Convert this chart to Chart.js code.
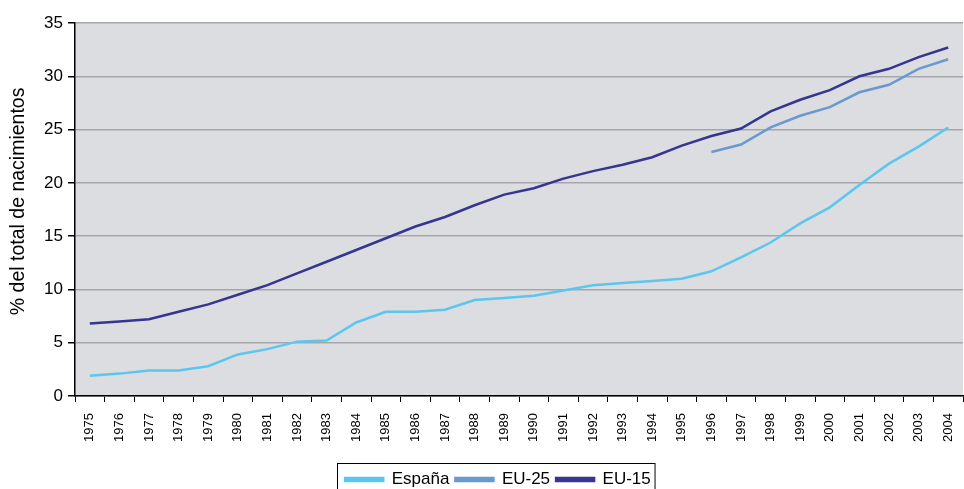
<!DOCTYPE html>
<html>
<head>
<meta charset="utf-8">
<script src="https://cdn.jsdelivr.net/npm/chart.js@4"></script>
<style>
  body { margin: 0; background: #fff; }
  #wrap { width: 964px; height: 489px; }
</style>
</head>
<body>
<div id="wrap"><canvas id="chart1"></canvas></div>
<script>
const years = ["1975","1976","1977","1978","1979","1980","1981","1982","1983","1984",
  "1985","1986","1987","1988","1989","1990","1991","1992","1993","1994",
  "1995","1996","1997","1998","1999","2000","2001","2002","2003","2004"]

const espana = [1.9, 2.1, 2.4, 2.4, 2.8, 3.9, 4.4, 5.1, 5.2, 6.9,
  7.9, 7.9, 8.1, 9.0, 9.2, 9.4, 9.9, 10.4, 10.6, 10.8,
  11.0, 11.7, 13.0, 14.4, 16.2, 17.7, 19.8, 21.8, 23.4, 25.2]

// EU-25 only starts in 1996
const eu25 = [null, null, null, null, null, null, null, null, null, null,
  null, null, null, null, null, null, null, null, null, null,
  null, 22.9, 23.6, 25.2, 26.3, 27.1, 28.5, 29.2, 30.7, 31.6]

const eu15 = [6.8, 7.0, 7.2, 7.9, 8.6, 9.5, 10.4, 11.5, 12.6, 13.7,
  14.8, 15.9, 16.8, 17.9, 18.9, 19.5, 20.4, 21.1, 21.7, 22.4,
  23.5, 24.4, 25.1, 26.7, 27.8, 28.7, 30.0, 30.7, 31.8, 32.7]

const yTicks = [0, 5, 10, 15, 20, 25, 30, 35]

const fontFamily = "'Liberation Sans', Arial, sans-serif"
const narrowFamily = "'Liberation Sans Narrow', 'Arial Narrow', 'Liberation Sans', sans-serif"

// grey plot background
const plotBg = {
  id: "plotBg",
  beforeDraw(chart){
    const a = chart.chartArea
    const c = chart.ctx
    c.save()
    c.fillStyle = "#dcdde0"
    c.fillRect(a.left, a.top, a.right - a.left, a.bottom - a.top)
    c.restore()
  }
}

// legend sits a bit right of the canvas centre in the original + has a frame
const legendBox = {
  id: "legendBox",
  afterLayout(chart){
    const shift = 14
    chart.legend.left += shift
    chart.legend.right += shift
  },
  afterDraw(chart){
    const boxes = chart.legend.legendHitBoxes
    if(!boxes || !boxes.length) return
    let x0 = Infinity, x1 = -Infinity, y0 = Infinity
    for(let b of boxes){
      x0 = Math.min(x0, b.left)
      x1 = Math.max(x1, b.left + b.width)
      y0 = Math.min(y0, b.top)
    }
    const c = chart.ctx
    c.save()
    c.strokeStyle = "#000"
    c.lineWidth = 1
    c.strokeRect(Math.round(x0) - 7.5, Math.round(y0) - 7.5, (x1 - x0) + 12, 40)
    c.restore()
  }
}

const ctx = document.getElementById("chart1").getContext("2d")
new Chart(ctx, {
  type: "line",
  data: {
    labels: years,
    datasets: [
      { label: "España", data: espana, borderColor: "#5bc6ef", backgroundColor: "#5bc6ef" },
      { label: "EU-25", data: eu25, borderColor: "#6a98d0", backgroundColor: "#6a98d0" },
      { label: "EU-15", data: eu15, borderColor: "#363590", backgroundColor: "#363590" }
    ].map(d => Object.assign(d, { borderWidth: 2.5, pointRadius: 0, tension: 0, fill: false, spanGaps: false }))
  },
  options: {
    responsive: true,
    maintainAspectRatio: false,
    animation: false,
    layout: { padding: { top: 23, right: 1, left: 5, bottom: -9 } },
    scales: {
      x: {
        offset: true,
        afterFit(scale){
          scale.height = 69
          scale.paddingLeft = 0
          scale.paddingRight = 0
        },
        grid: { display: true, offset: true, drawOnChartArea: false, color: "#000", tickLength: 6 },
        border: { color: "#000", width: 1.5 },
        ticks: { color: "#000", minRotation: 90, maxRotation: 90, autoSkip: false, padding: 11,
          font: { family: narrowFamily, size: 13 } }
      },
      y: {
        min: 0,
        max: 35,
        afterFit(scale){ scale.width = 70 },
        afterBuildTicks(scale){ scale.ticks = yTicks.map(v => ({ value: v })) },
        grid: { color: "#a6a7aa", lineWidth: 1.5, tickColor: "#000", tickLength: 7 },
        border: { color: "#000", width: 1.5 },
        ticks: { color: "#000", padding: 5, font: { family: fontFamily, size: 17 } },
        // leading spaces nudge the rotated title up, as in the original
        title: { display: true, text: "   % del total de nacimientos", color: "#000",
          font: { family: fontFamily, size: 19.5 }, padding: { top: 2, bottom: 0 } }
      }
    },
    plugins: {
      legend: {
        position: "bottom",
        labels: { color: "#000", boxWidth: 38, boxHeight: 3, padding: 6,
          font: { family: fontFamily, size: 17 } }
      },
      tooltip: { enabled: false }
    }
  },
  plugins: [plotBg, legendBox]
})
</script>
</body>
</html>
